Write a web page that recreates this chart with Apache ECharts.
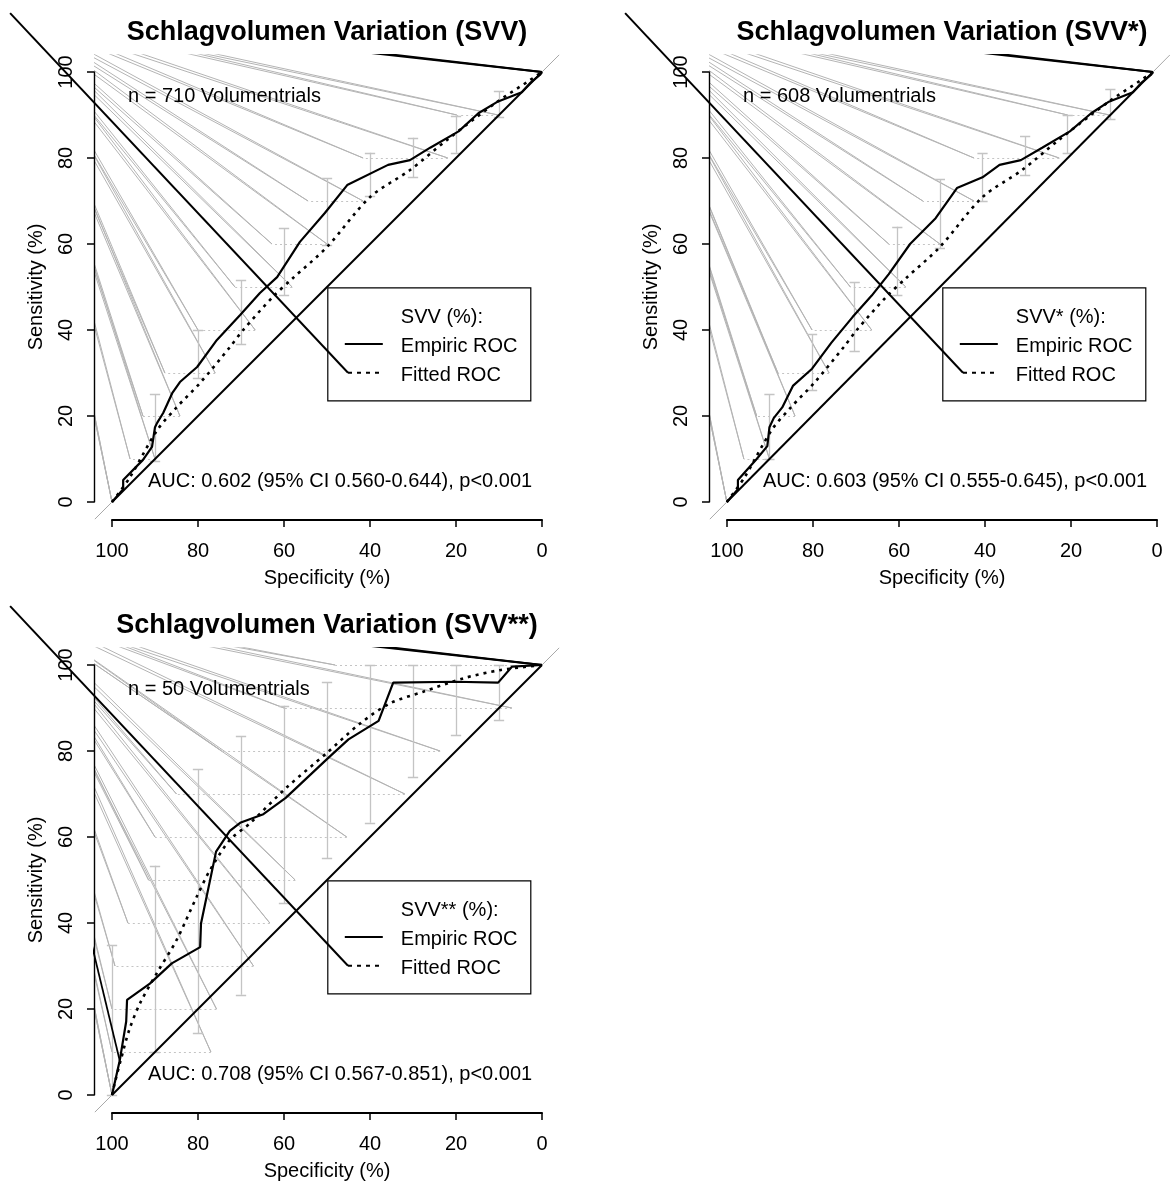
<!DOCTYPE html>
<html><head><meta charset="utf-8">
<script src="https://cdn.jsdelivr.net/npm/echarts@6/dist/echarts.min.js"></script>
<style>html,body{margin:0;padding:0;background:#fff}#c{width:1170px;height:1185px}</style>
</head><body><div id="c"></div>
<script>
// ---------------- DATA ----------------
const titles = ['Schlagvolumen Variation (SVV)', 'Schlagvolumen Variation (SVV*)', 'Schlagvolumen Variation (SVV**)'];
const nTexts = ['n = 710 Volumentrials', 'n = 608 Volumentrials', 'n = 50 Volumentrials'];
const aucTexts = ['AUC: 0.602 (95% CI 0.560-0.644), p<0.001', 'AUC: 0.603 (95% CI 0.555-0.645), p<0.001', 'AUC: 0.708 (95% CI 0.567-0.851), p<0.001'];
const legendTitles = ['SVV (%):', 'SVV* (%):', 'SVV** (%):'];
const legendItems = ['Empiric ROC', 'Fitted ROC'];

// Panel 1 (SVV)
const emp1Spec = [100, 97.4, 97.4, 92.8, 90.7, 90, 89.5, 88.1, 86, 84.2, 80.2, 75.6, 70.2, 65.6, 61.6, 56.3, 50.5, 45.3, 35.8, 30.7, 26, 19.4, 14.8, 10.5, 4.7, 2.8, 0.5, 0];
const emp1Sens = [0, 3, 5.1, 9.8, 12.8, 17.4, 18.4, 20.7, 25.3, 27.9, 31.4, 37.7, 43.5, 48.6, 52.3, 60.5, 67.2, 73.7, 78.4, 79.5, 82.4, 86.2, 90.4, 93, 95.3, 97.4, 99.3, 100];
const fit1Spec = [100, 95.8, 89.5, 84.9, 79.5, 72.6, 69.5, 62.6, 57.9, 50, 40, 30.7, 22.1, 10.5, 2.8, 0];
const fit1Sens = [0, 5.8, 16.7, 22.1, 27.7, 36, 40, 47.7, 52.1, 59.3, 70.9, 77.2, 84.2, 93, 98.1, 100];
const se1Spec = [90, 80, 70, 60, 50, 40, 30, 20, 10];
const se1Lo = [9.5, 28.8, 36.7, 48, 59.8, 71.2, 75.6, 81.2, 89.5];
const se1Hi = [25, 40, 51.6, 63.7, 75.3, 81.2, 84.7, 89.6, 95.6];
const sp1Sens = [0, 10, 20, 30, 40, 50, 60, 70, 80, 90];
const sp1Lo = [100, 90, 84.2, 76, 66.7, 58.1, 50, 41.6, 21.9, 10.2];
const sp1Hi = [100, 95.8, 92.8, 87.7, 80, 71.4, 62.8, 54.4, 41.6, 19.8];

// Panel 2 (SVV*)
const emp2Spec = [100, 97.4, 97.4, 93, 90.5, 90, 89, 87, 84.5, 80, 75.5, 70.5, 66, 62, 57, 51, 46, 40, 36, 31, 26, 19.5, 14.5, 10.5, 4.7, 2.8, 0.5, 0];
const emp2Sens = [0, 3, 5.1, 10, 13, 17.4, 19.5, 22, 27, 31, 37, 43, 48, 53, 60, 66, 73, 75.5, 78.4, 79.5, 82.4, 86.2, 90.4, 93, 95.3, 97.4, 99.3, 100];
const fit2Spec = [100, 95.8, 89.5, 84.9, 79.5, 72.6, 69.5, 62.6, 57.9, 50, 40, 30.7, 22.1, 10.5, 2.8, 0];
const fit2Sens = [0, 5.8, 16.7, 22.1, 27.7, 36, 40, 47.7, 52.1, 59.3, 70.9, 77.2, 84.2, 93, 98.1, 100];
const se2Spec = [90, 80, 70, 60, 50, 40, 30, 20, 10];
const se2Lo = [10, 26, 35, 48, 59, 70, 76, 81, 89];
const se2Hi = [25, 39, 51, 64, 75, 81, 85, 90, 96];
const sp2Sens = [0, 10, 20, 30, 40, 50, 60, 70, 80, 90];
const sp2Lo = [100, 90, 84, 76, 66, 58, 50, 42, 22, 10.2];
const sp2Hi = [100, 96, 93, 88, 80, 71, 62, 54, 42, 20];

// Panel 3 (SVV**)
const emp3Spec = [100, 98.2, 96.7, 96.5, 91.2, 86.1, 79.5, 79.3, 78, 75.8, 72.6, 70.2, 64.8, 59.6, 49.7, 45, 38, 34.6, 20.2, 10.2, 7, 0];
const emp3Sens = [0, 8, 17.1, 22.1, 25.9, 30.6, 34.4, 39.9, 46.1, 56.6, 61.4, 63.3, 65.3, 69.1, 78.4, 82.7, 87, 95.9, 96.1, 95.9, 99.6, 100];
const fit3Spec = [100, 99.3, 98, 96, 93.5, 89.6, 85, 80.3, 77.2, 72.6, 67.9, 59.4, 50.1, 42.3, 35.3, 27.6, 18.3, 9.8, 0];
const fit3Sens = [0, 3, 8, 15.1, 21.3, 28.3, 36, 46.1, 52.3, 59.3, 63.2, 71.5, 79.5, 86.4, 91.1, 93.8, 96.9, 98.8, 100];
const se3Spec = [100, 90, 80, 70, 60, 50, 40, 30, 20, 10];
const se3Lo = [0, 10, 14.4, 23.3, 44.6, 55, 63.3, 73.8, 83.7, 87.2];
const se3Hi = [34.9, 53.3, 75.8, 83.5, 90.5, 95.9, 100, 100, 100, 100];
const sp3Sens = [0, 10, 20, 30, 40, 50, 60, 70, 80, 90, 100];
const sp3Lo = [100, 77, 75.7, 67.1, 63.3, 57.4, 45.4, 31.9, 23.7, 7, 0];
const sp3Hi = [100, 100, 100, 99.3, 96.3, 91.5, 90, 85, 74.5, 60, 48.1];

// stray pen origins (device top-left) in data units
const originSpec = [123.7, 123.0];
const originSens = [113.7, 114.4];
// stray black pen stroke in panel 3 (origin -> early empiric vertex)
const stray3Spec = [123.7, 98.2];
const stray3Sens = [113.7, 8];

const panelsData = [
  {emp: [emp1Spec, emp1Sens], fit: [fit1Spec, fit1Sens], se: [se1Spec, se1Lo, se1Hi], sp: [sp1Sens, sp1Lo, sp1Hi], stray: null},
  {emp: [emp2Spec, emp2Sens], fit: [fit2Spec, fit2Sens], se: [se2Spec, se2Lo, se2Hi], sp: [sp2Sens, sp2Lo, sp2Hi], stray: null},
  {emp: [emp3Spec, emp3Sens], fit: [fit3Spec, fit3Sens], se: [se3Spec, se3Lo, se3Hi], sp: [sp3Sens, sp3Lo, sp3Hi], stray: [stray3Spec, stray3Sens]}
];

// ---------------- LAYOUT ----------------
const K = 4.3;            // px per percent
const AX_MIN = -4, AX_MAX = 104;
const SPAN = (AX_MAX - AX_MIN) * K;
const AXIS_OFF = 18;
const layout = [{L: 94.8, T: 54.8}, {L: 709.8, T: 54.8}, {L: 94.8, T: 647.8}];
const FONT = 'Liberation Sans, Arial, Helvetica, sans-serif';

const grids = [], xAxes = [], yAxes = [], series = [], graphics = [];
const zip = (a, b) => a.map((v, i) => [v, b[i]]);

function axisOpt(extra, lw) {
  return Object.assign({
    type: 'value', min: 0, max: 100, interval: 20, offset: AXIS_OFF, z: 20,
    axisLine: {show: true, onZero: false, lineStyle: {color: '#000', width: lw, opacity: 1}},
    axisTick: {show: true, inside: false, length: 7, lineStyle: {color: '#000', width: 1.5, opacity: 1}},
    splitLine: {show: false},
    nameLocation: 'middle',
    nameTextStyle: {fontSize: 20, color: '#000', fontFamily: FONT},
  }, extra);
}

layout.forEach((pos, p) => {
  const d = panelsData[p];
  const gi = grids.length;
  const aL = pos.L - AX_MIN * K, aT = pos.T + (AX_MAX - 100) * K, aW = 100 * K;
  grids.push({left: pos.L, top: pos.T, width: SPAN, height: SPAN});
  grids.push({left: aL, top: aT, width: aW, height: aW});
  xAxes.push({gridIndex: gi, type: 'value', min: AX_MIN, max: AX_MAX, inverse: true, show: false});
  yAxes.push({gridIndex: gi, type: 'value', min: AX_MIN, max: AX_MAX, show: false});
  xAxes.push(axisOpt({gridIndex: gi + 1, inverse: true, position: 'bottom',
    name: 'Specificity (%)', nameGap: 48,
    axisLabel: {show: true, fontSize: 20, color: '#000', fontFamily: FONT, margin: 21}}, 2));
  yAxes.push(axisOpt({gridIndex: gi + 1, position: 'left',
    name: 'Sensitivity (%)', nameGap: 48,
    axisLabel: {show: true, fontSize: 20, color: '#000', fontFamily: FONT, margin: 18, rotate: 90}}, 1.4));

  const xi = gi, yi = gi;
  // fan of stray grey lines from pen origin to each specificity-CI bar end
  const fan = [];
  d.sp[0].forEach((s, i) => {
    [d.sp[1][i], d.sp[2][i]].forEach(x => {
      originSpec.forEach((ox, k) => fan.push({coords: [[ox, originSens[k]], [x, s]]}));
    });
  });
  series.push({type: 'lines', coordinateSystem: 'cartesian2d', xAxisIndex: xi, yAxisIndex: yi, clip: true,
    silent: true, z: 1, lineStyle: {color: '#b4b4b4', width: 1, opacity: 1}, data: fan});
  // sensitivity CI bars (vertical with caps)
  const seSeg = [];
  d.se[0].forEach((x, i) => {
    const lo = d.se[1][i], hi = d.se[2][i];
    seSeg.push({coords: [[x, lo], [x, hi]]});
    seSeg.push({coords: [[x + 1.2, lo], [x - 1.2, lo]]});
    seSeg.push({coords: [[x + 1.2, hi], [x - 1.2, hi]]});
  });
  series.push({type: 'lines', coordinateSystem: 'cartesian2d', xAxisIndex: xi, yAxisIndex: yi, clip: true,
    silent: true, z: 2, lineStyle: {color: '#c4c4c4', width: 1.3, opacity: 1}, data: seSeg});
  // specificity CI bars (horizontal dotted)
  const spSeg = d.sp[0].map((s, i) => ({coords: [[d.sp[1][i], s], [d.sp[2][i], s]]}));
  series.push({type: 'lines', coordinateSystem: 'cartesian2d', xAxisIndex: xi, yAxisIndex: yi, clip: true,
    silent: true, z: 2, lineStyle: {color: '#c4c4c4', width: 1.2, type: [2, 3], opacity: 1}, data: spSeg});
  // chance line (grey, full plot region) and black identity segment
  series.push({type: 'line', xAxisIndex: xi, yAxisIndex: yi, clip: true, symbol: 'none', silent: true, z: 3,
    lineStyle: {color: '#a8a8a8', width: 1}, data: [[AX_MAX, 100 - AX_MAX], [AX_MIN, 100 - AX_MIN]]});
  series.push({type: 'line', xAxisIndex: xi, yAxisIndex: yi, clip: true, symbol: 'none', silent: true, z: 4,
    lineStyle: {color: '#000', width: 2}, data: [[100, 0], [0, 100]]});
  // stray black lines from curve end to pen origin
  const strayBlack = originSpec.map((ox, k) => ({coords: [[0, 100], [ox, originSens[k]]]}));
  if (d.stray) strayBlack.push({coords: zip(d.stray[0], d.stray[1])});
  series.push({type: 'lines', coordinateSystem: 'cartesian2d', xAxisIndex: xi, yAxisIndex: yi, clip: true,
    silent: true, z: 5, lineStyle: {color: '#000', width: 1.8, opacity: 1}, data: strayBlack});
  // fitted ROC
  series.push({type: 'line', xAxisIndex: xi, yAxisIndex: yi, clip: true, symbol: 'none', silent: true, z: 6,
    smooth: 0.3, lineStyle: {color: '#000', width: 2.6, type: [3, 5], cap: 'butt'}, data: zip(d.fit[0], d.fit[1])});
  // empiric ROC
  series.push({type: 'line', xAxisIndex: xi, yAxisIndex: yi, clip: true, symbol: 'none', silent: true, z: 7,
    lineStyle: {color: '#000', width: 2.2}, data: zip(d.emp[0], d.emp[1])});

  // texts
  graphics.push({type: 'text', z: 10, style: {text: titles[p], x: pos.L + 232.2, y: pos.T - 22,
    font: 'bold 27px ' + FONT, fill: '#000', textAlign: 'center', textVerticalAlign: 'middle'}});
  graphics.push({type: 'text', z: 10, style: {text: nTexts[p], x: pos.L + 33.2, y: pos.T + 41.2,
    font: '20px ' + FONT, fill: '#000', textAlign: 'left', textVerticalAlign: 'middle'}});
  graphics.push({type: 'text', z: 10, style: {text: aucTexts[p], x: pos.L + 53.2, y: pos.T + 426.2,
    font: '20px ' + FONT, fill: '#000', textAlign: 'left', textVerticalAlign: 'middle'}});
  // legend
  graphics.push({type: 'rect', z: 10, shape: {x: pos.L + 233, y: pos.T + 233, width: 203, height: 113},
    style: {fill: null, stroke: '#000', lineWidth: 1.2}});
  graphics.push({type: 'text', z: 10, style: {text: legendTitles[p], x: pos.L + 306, y: pos.T + 262.5,
    font: '20px ' + FONT, fill: '#000', textAlign: 'left', textVerticalAlign: 'middle'}});
  graphics.push({type: 'text', z: 10, style: {text: legendItems[0], x: pos.L + 306, y: pos.T + 291.2,
    font: '20px ' + FONT, fill: '#000', textAlign: 'left', textVerticalAlign: 'middle'}});
  graphics.push({type: 'text', z: 10, style: {text: legendItems[1], x: pos.L + 306, y: pos.T + 320.2,
    font: '20px ' + FONT, fill: '#000', textAlign: 'left', textVerticalAlign: 'middle'}});
  graphics.push({type: 'line', z: 10, shape: {x1: pos.L + 250, y1: pos.T + 289.2, x2: pos.L + 288, y2: pos.T + 289.2},
    style: {stroke: '#000', lineWidth: 2}});
  graphics.push({type: 'line', z: 10, shape: {x1: pos.L + 253.2, y1: pos.T + 318, x2: pos.L + 288, y2: pos.T + 318},
    style: {stroke: '#000', lineWidth: 2, lineDash: [4, 5]}});
  // stray pen line from device origin to legend sample
  graphics.push({type: 'line', z: 10,
    shape: {x1: pos.L + (AX_MAX - originSpec[0]) * K, y1: pos.T + (AX_MAX - originSens[0]) * K,
            x2: pos.L + 253.2, y2: pos.T + 318},
    style: {stroke: '#000', lineWidth: 2}});
});

const chart = echarts.init(document.getElementById('c'), null, {renderer: 'canvas'});
chart.setOption({
  backgroundColor: '#fff',
  animation: false,
  grid: grids, xAxis: xAxes, yAxis: yAxes, series: series, graphic: graphics
});
</script></body></html>
